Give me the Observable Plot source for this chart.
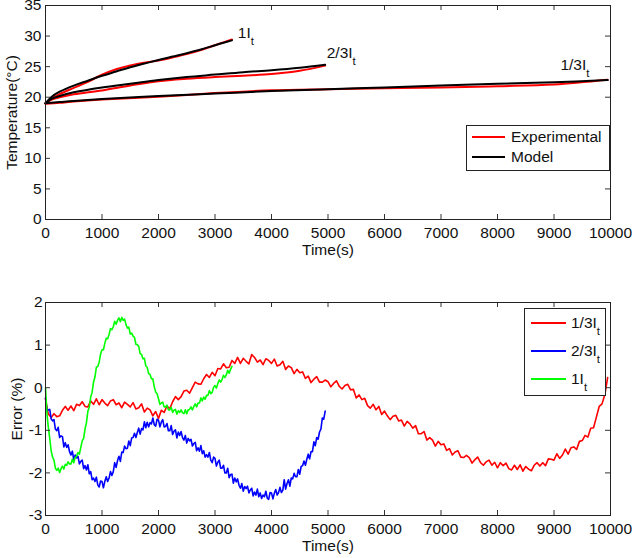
<!DOCTYPE html>
<html>
<head>
<meta charset="utf-8">
<script src="https://cdn.jsdelivr.net/npm/d3@7"></script>
<script src="https://cdn.jsdelivr.net/npm/@observablehq/plot@0.6"></script>
<style>
  body { margin: 0; background: #fff; }
  #chart { width: 643px; height: 558px; }
  #chart svg { display: block; }
</style>
</head>
<body>
<div id="chart"></div>
<script>
// ---- Temperature rise (°C) vs time (s) for three current levels ----
const time1 = [0, 100, 250, 500, 750, 1000, 1250, 1500, 1750, 2000, 2250, 2500, 2750, 3000, 3150, 3300];
const model1 = [19.0, 20.0, 20.9, 21.9, 22.7, 23.5, 24.2, 24.9, 25.5, 26.1, 26.65, 27.2, 27.8, 28.5, 28.9, 29.3];
const exp1 = [19.0, 19.71, 20.5, 21.53, 22.52, 23.68, 24.58, 25.2, 25.65, 26.02, 26.51, 27.05, 27.71, 28.5, 28.97, 29.43];

const time23 = [0, 100, 250, 500, 1000, 1500, 2000, 2500, 3000, 3500, 4000, 4500, 4950];
const model23 = [19.0, 19.7, 20.2, 20.8, 21.6, 22.2, 22.8, 23.3, 23.7, 24.1, 24.4, 24.8, 25.3];
const exp23 = [19.0, 19.57, 19.98, 20.47, 21.11, 21.91, 22.62, 23.02, 23.3, 23.53, 23.78, 24.32, 25.17];

const time13 = [0, 250, 500, 1000, 2000, 3000, 4000, 5000, 6000, 7000, 8000, 9000, 9950];
const model13 = [19.0, 19.2, 19.4, 19.7, 20.2, 20.6, 21.0, 21.3, 21.6, 21.9, 22.2, 22.45, 22.8];
const exp13 = [18.94, 19.09, 19.31, 19.63, 20.07, 20.67, 21.13, 21.32, 21.47, 21.6, 21.8, 22.07, 22.84];

// curve annotations (text, time, temperature)
const curveLabels = ["1I_t", "2/3I_t", "1/3I_t"];
const labelTime = [3404, 4977, 9113];
const labelTemp = [30.5, 27.2, 25.2];

// ---- Relative error (%) sampled at a fixed step ----
const errStep13 = 50;
const errPct13 = [
  -0.26,-0.62,-0.70,-0.61,-0.68,-0.66,-0.53,-0.44,-0.53,-0.43,
  -0.54,-0.39,-0.42,-0.33,-0.44,-0.45,-0.31,-0.39,-0.26,-0.40,
  -0.28,-0.36,-0.42,-0.31,-0.28,-0.40,-0.36,-0.47,-0.34,-0.39,
  -0.45,-0.35,-0.50,-0.47,-0.38,-0.57,-0.48,-0.52,-0.66,-0.56,
  -0.72,-0.53,-0.58,-0.43,-0.49,-0.33,-0.21,-0.28,-0.21,-0.08,
  -0.06,-0.13,0.00,0.13,0.09,0.08,0.21,0.31,0.24,0.36,
  0.28,0.45,0.44,0.56,0.47,0.48,0.64,0.57,0.71,0.57,
  0.69,0.62,0.56,0.78,0.71,0.60,0.65,0.54,0.68,0.64,
  0.57,0.67,0.51,0.54,0.62,0.43,0.51,0.47,0.33,0.43,
  0.35,0.37,0.22,0.27,0.12,0.20,0.26,0.13,0.13,0.18,
  0.14,0.02,0.10,0.16,0.03,-0.03,0.05,0.08,-0.05,-0.04,
  -0.24,-0.17,-0.28,-0.25,-0.42,-0.48,-0.39,-0.52,-0.44,-0.63,
  -0.55,-0.66,-0.75,-0.67,-0.65,-0.78,-0.76,-0.90,-0.79,-0.85,
  -0.95,-0.89,-1.08,-1.08,-1.03,-1.23,-1.17,-1.23,-1.37,-1.26,
  -1.34,-1.32,-1.47,-1.43,-1.58,-1.51,-1.48,-1.63,-1.64,-1.59,
  -1.64,-1.77,-1.69,-1.63,-1.76,-1.82,-1.74,-1.70,-1.82,-1.75,
  -1.88,-1.76,-1.83,-1.77,-1.90,-1.93,-1.82,-1.92,-1.81,-1.96,
  -1.85,-1.91,-1.95,-1.82,-1.76,-1.84,-1.76,-1.83,-1.67,-1.68,
  -1.70,-1.55,-1.66,-1.58,-1.44,-1.56,-1.41,-1.39,-1.45,-1.26,
  -1.24,-1.12,-1.16,-0.95,-0.94,-0.69,-0.44,-0.38,-0.16,0.24
];

const errStep23 = 25;
const errPct23 = [
  -0.24,-0.54,-0.52,-0.51,-0.73,-0.78,-0.75,-0.97,
  -1.01,-0.93,-1.17,-1.13,-1.15,-1.39,-1.29,-1.40,
  -1.34,-1.50,-1.58,-1.49,-1.69,-1.58,-1.65,-1.61,
  -1.79,-1.73,-1.70,-1.90,-1.83,-1.93,-1.81,-2.02,
  -1.97,-2.16,-2.12,-2.20,-2.10,-2.28,-2.33,-2.19,
  -2.20,-2.35,-2.20,-2.09,-2.20,-2.12,-1.97,-2.06,
  -1.97,-1.76,-1.87,-1.71,-1.61,-1.73,-1.51,-1.52,
  -1.37,-1.43,-1.42,-1.25,-1.36,-1.18,-1.17,-1.07,
  -1.17,-1.05,-0.95,-1.09,-0.96,-0.99,-0.80,-0.94,
  -0.81,-0.92,-0.82,-0.85,-0.71,-0.87,-0.90,-0.74,
  -0.76,-0.92,-0.81,-0.75,-0.92,-0.91,-0.84,-1.01,
  -1.01,-0.89,-1.10,-1.02,-0.99,-1.18,-1.04,-1.12,
  -1.03,-1.17,-1.23,-1.12,-1.30,-1.19,-1.25,-1.21,
  -1.37,-1.31,-1.28,-1.48,-1.41,-1.49,-1.36,-1.55,
  -1.48,-1.63,-1.57,-1.63,-1.52,-1.70,-1.76,-1.63,
  -1.66,-1.84,-1.75,-1.70,-1.89,-1.89,-1.82,-2.00,
  -2.00,-1.89,-2.11,-2.04,-2.03,-2.24,-2.12,-2.21,
  -2.14,-2.29,-2.36,-2.25,-2.43,-2.32,-2.37,-2.31,
  -2.47,-2.40,-2.36,-2.54,-2.45,-2.52,-2.38,-2.56,
  -2.47,-2.60,-2.52,-2.56,-2.43,-2.59,-2.62,-2.46,
  -2.47,-2.61,-2.48,-2.39,-2.52,-2.46,-2.34,-2.46,
  -2.41,-2.16,-2.38,-2.25,-2.16,-2.31,-2.12,-2.14,
  -2.01,-2.09,-2.09,-1.92,-2.03,-1.85,-1.83,-1.72,
  -1.82,-1.68,-1.56,-1.67,-1.50,-1.50,-1.27,-1.36,
  -1.17,-1.21,-1.04,-0.97,-0.71,-0.74,-0.55
];

const errStep1 = 25;
const errPct1 = [
  -0.01,-0.60,-0.93,-1.19,-1.48,-1.63,-1.70,-1.89,
  -1.94,-1.89,-1.99,-1.90,-1.84,-1.91,-1.80,-1.82,
  -1.74,-1.79,-1.79,-1.68,-1.76,-1.64,-1.61,-1.52,
  -1.56,-1.40,-1.25,-1.19,-0.97,-0.82,-0.55,-0.46,
  -0.22,-0.11,0.13,0.25,0.48,0.50,0.60,0.79,
  0.89,0.89,1.04,1.16,1.15,1.25,1.39,1.36,
  1.43,1.56,1.49,1.58,1.64,1.55,1.65,1.58,
  1.61,1.48,1.40,1.42,1.26,1.28,1.21,1.18,
  1.02,1.01,0.97,0.80,0.78,0.68,0.69,0.51,
  0.48,0.33,0.31,0.21,0.21,0.02,-0.10,-0.14,
  -0.26,-0.39,-0.36,-0.34,-0.45,-0.45,-0.41,-0.52,
  -0.52,-0.46,-0.58,-0.53,-0.51,-0.62,-0.54,-0.58,
  -0.52,-0.59,-0.61,-0.52,-0.61,-0.52,-0.51,-0.45,
  -0.52,-0.44,-0.38,-0.45,-0.36,-0.36,-0.24,-0.31,
  -0.22,-0.27,-0.18,-0.18,-0.07,-0.14,-0.11,0.01,
  0.05,-0.01,0.10,0.18,0.13,0.19,0.29,0.24,
  0.30,0.41,0.34,0.43,0.50
];

// axis ticks
const timeTicks = [0, 1000, 2000, 3000, 4000, 5000, 6000, 7000, 8000, 9000, 10000];
const tempTicks = [0, 5, 10, 15, 20, 25, 30, 35];
const errTicks = [-3, -2, -1, 0, 1, 2];

// ---- layout / style ----
const FONT = "'Liberation Sans', Arial, Helvetica, sans-serif";
const FS = 15.5, SUB_FS = 11.5;
const W = 643, ML = 45, MR = 33;
const PW = W - ML - MR;
const TICK = 5;
const RED = "#ff0000", BLUE = "#0000ff", GREEN = "#00ff00";

const rows = (times, vals) => times.map((t, i) => ({t, v: vals[i]}));
const stepRows = (step, vals) => vals.map((v, i) => ({t: i * step, v}));
const fmt = d => String(d);

// inward-pointing ticks on all four sides of a panel
function boxTicks(yTicks, ph) {
  return [
    Plot.tickX(timeTicks, {x: d => d, stroke: "#333", insetTop: ph - TICK}),
    Plot.tickX(timeTicks, {x: d => d, stroke: "#333", insetBottom: ph - TICK}),
    Plot.tickY(yTicks, {y: d => d, stroke: "#333", insetRight: PW - TICK}),
    Plot.tickY(yTicks, {y: d => d, stroke: "#333", insetLeft: PW - TICK})
  ];
}

// "xxx_t" -> "xxx" with a subscript t
function subscripts(svg) {
  svg.querySelectorAll("text").forEach(el => {
    const s = el.textContent;
    if (!s.endsWith("_t")) return;
    el.textContent = s.slice(0, -2);
    const ts = document.createElementNS("http://www.w3.org/2000/svg", "tspan");
    ts.setAttribute("dy", "7");
    ts.setAttribute("font-size", SUB_FS);
    ts.textContent = "t";
    el.appendChild(ts);
  });
}

function legend(svg, box, entries) {
  const g = d3.select(svg).append("g")
    .attr("font-family", FONT).attr("font-size", FS)
    .attr("fill", "#111").attr("text-anchor", "start");
  g.append("rect")
    .attr("x", box.x + 0.5).attr("y", box.y + 0.5)
    .attr("width", box.w).attr("height", box.h)
    .attr("fill", "#fff").attr("stroke", "#222");
  entries.forEach((e, i) => {
    const y = box.y + box.first + i * box.gap;
    g.append("line")
      .attr("x1", box.x + box.l1).attr("x2", box.x + box.l2)
      .attr("y1", y).attr("y2", y)
      .attr("stroke", e.color).attr("stroke-width", 2);
    const t = g.append("text")
      .attr("x", box.x + box.tx).attr("y", y).attr("dy", "0.35em")
      .attr("text-anchor", "start")
      .text(e.main);
    if (e.sub) t.append("tspan").attr("dy", 7).attr("font-size", SUB_FS).text(e.sub);
  });
}

const style = {fontFamily: FONT, fontSize: FS + "px", color: "#111", background: "#fff", overflow: "visible"};

// ---- Panel 1: temperature ----
const topH = 270, topMT = 5, topMB = 51;
const topPH = topH - topMT - topMB;

const expSets = [rows(time13, exp13), rows(time23, exp23), rows(time1, exp1)];
const modelSets = [rows(time13, model13), rows(time23, model23), rows(time1, model1)];

const tempPlot = Plot.plot({
  width: W, height: topH,
  marginLeft: ML, marginRight: MR, marginTop: topMT, marginBottom: topMB,
  style,
  x: {domain: [0, 10000]},
  y: {domain: [0, 35]},
  marks: [
    ...expSets.map(r => Plot.line(r, {x: "t", y: "v", stroke: RED, strokeWidth: 2, curve: "catmull-rom"})),
    ...modelSets.map(r => Plot.line(r, {x: "t", y: "v", stroke: "#000", strokeWidth: 2, curve: "catmull-rom"})),
    ...boxTicks(tempTicks, topPH),
    Plot.frame({stroke: "#222"}),
    Plot.axisX({ticks: timeTicks, tickSize: 0, tickPadding: 7, tickFormat: fmt, label: null}),
    Plot.axisY({ticks: tempTicks, tickSize: 0, tickPadding: 4, tickFormat: fmt, label: null}),
    Plot.text(["Time(s)"], {text: d => d, frameAnchor: "bottom", dy: 31, textAnchor: "middle", lineAnchor: "middle"}),
    Plot.text(["Temperature(°C)"], {text: d => d, frameAnchor: "left", dx: -33, rotate: -90, textAnchor: "middle", lineAnchor: "middle"}),
    Plot.text(curveLabels, {
      x: (d, i) => labelTime[i], y: (d, i) => labelTemp[i],
      text: d => d, textAnchor: "start", lineAnchor: "middle"
    })
  ]
});
subscripts(tempPlot);
legend(tempPlot, {x: 466, y: 125, w: 143, h: 45, first: 12, gap: 20, l1: 6, l2: 39, tx: 45}, [
  {color: RED, main: "Experimental"},
  {color: "#000", main: "Model"}
]);

// ---- Panel 2: relative error ----
const botH = 288, botMT = 32, botMB = 43;
const botPH = botH - botMT - botMB;

const errPlot = Plot.plot({
  width: W, height: botH,
  marginLeft: ML, marginRight: MR, marginTop: botMT, marginBottom: botMB,
  style,
  x: {domain: [0, 10000]},
  y: {domain: [-3, 2]},
  marks: [
    Plot.line(stepRows(errStep13, errPct13), {x: "t", y: "v", stroke: RED, strokeWidth: 1.6, strokeLinejoin: "round"}),
    Plot.line(stepRows(errStep23, errPct23), {x: "t", y: "v", stroke: BLUE, strokeWidth: 1.6, strokeLinejoin: "round"}),
    Plot.line(stepRows(errStep1, errPct1), {x: "t", y: "v", stroke: GREEN, strokeWidth: 1.6, strokeLinejoin: "round"}),
    ...boxTicks(errTicks, botPH),
    Plot.frame({stroke: "#222"}),
    Plot.axisX({ticks: timeTicks, tickSize: 0, tickPadding: 7, tickFormat: fmt, label: null}),
    Plot.axisY({ticks: errTicks, tickSize: 0, tickPadding: 3, tickFormat: fmt, label: null}),
    Plot.text(["Time(s)"], {text: d => d, frameAnchor: "bottom", dy: 31, textAnchor: "middle", lineAnchor: "middle"}),
    Plot.text(["Error (%)"], {text: d => d, frameAnchor: "left", dx: -28, rotate: -90, textAnchor: "middle", lineAnchor: "middle"})
  ]
});
legend(errPlot, {x: 524, y: 38, w: 81, h: 87, first: 15, gap: 28, l1: 7, l2: 42, tx: 47}, [
  {color: RED, main: "1/3I", sub: "t"},
  {color: BLUE, main: "2/3I", sub: "t"},
  {color: GREEN, main: "1I", sub: "t"}
]);

const chart = document.getElementById("chart");
chart.appendChild(tempPlot);
chart.appendChild(errPlot);
</script>
</body>
</html>
